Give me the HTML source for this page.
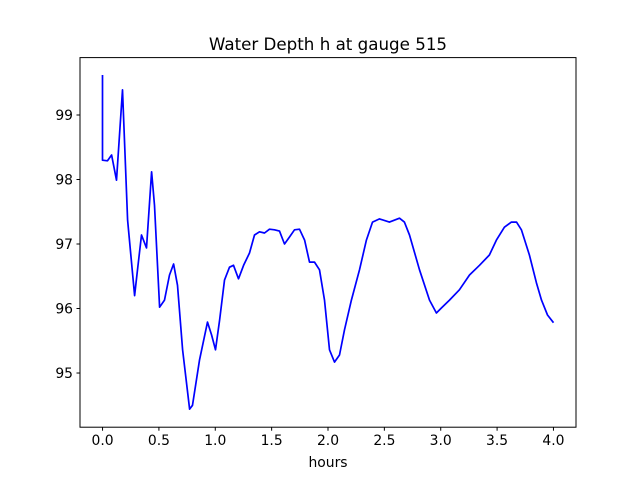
<!DOCTYPE html>
<html><head><meta charset="utf-8"><style>
body{margin:0;background:#fff;}
svg text{font-family:"DejaVu Sans","Liberation Sans",sans-serif;fill:#000;}
</style></head><body>
<svg id="chart" width="640" height="480" xmlns="http://www.w3.org/2000/svg">
<rect width="640" height="480" fill="#fff"/>
<text x="328" y="50" font-size="16.7" text-anchor="middle">Water Depth h at gauge 515</text>
<g id="xticks"></g>
<g id="yticks"></g>
<path id="line" fill="none" stroke="#0000ff" stroke-width="1.7" stroke-linejoin="round"/>
<rect x="80" y="57.6" width="496" height="369.6" fill="none" stroke="#000" stroke-width="1"/>
<text x="328" y="467" font-size="13.9" text-anchor="middle">hours</text>
</svg>
<script>
const hours=[0,0,0.044,0.08,0.124,0.177,0.222,0.284,0.31,0.346,0.39,0.435,0.461,0.506,0.55,0.594,0.63,0.665,0.71,0.772,0.798,0.86,0.931,0.967,1.002,1.038,1.082,1.126,1.162,1.206,1.251,1.304,1.348,1.392,1.437,1.481,1.525,1.57,1.614,1.659,1.703,1.747,1.792,1.836,1.88,1.925,1.969,2.013,2.058,2.102,2.146,2.208,2.279,2.341,2.395,2.457,2.545,2.634,2.678,2.723,2.812,2.9,2.962,3.007,3.078,3.166,3.255,3.344,3.432,3.494,3.565,3.627,3.672,3.716,3.787,3.849,3.894,3.947,4.0];
const depth=[99.62,98.30,98.29,98.38,97.99,99.39,97.37,96.2,96.6,97.14,96.94,98.12,97.60,96.02,96.13,96.52,96.69,96.36,95.36,94.44,94.50,95.20,95.79,95.59,95.36,95.82,96.44,96.64,96.67,96.46,96.67,96.86,97.14,97.19,97.17,97.23,97.22,97.20,97.0,97.11,97.22,97.23,97.06,96.72,96.72,96.6,96.13,95.36,95.17,95.28,95.67,96.13,96.6,97.06,97.34,97.39,97.34,97.40,97.34,97.14,96.6,96.13,95.93,96.01,96.13,96.29,96.52,96.67,96.83,97.06,97.26,97.34,97.34,97.22,96.83,96.40,96.13,95.9,95.78];
const xTicks=[0,0.5,1,1.5,2,2.5,3,3.5,4];
const xTickLabels=["0.0","0.5","1.0","1.5","2.0","2.5","3.0","3.5","4.0"];
const yTicks=[95,96,97,98,99];
const yTickLabels=["95","96","97","98","99"];
const X0=80,X1=576,Y0=57.6,Y1=427.2,xmin=-0.2,xmax=4.2,ymin=94.16,ymax=99.89;
const sx=v=>X0+(v-xmin)/(xmax-xmin)*(X1-X0);
const sy=v=>Y1-(v-ymin)/(ymax-ymin)*(Y1-Y0);
const NS="http://www.w3.org/2000/svg";
const xg=document.getElementById('xticks'),yg=document.getElementById('yticks');
xTicks.forEach((t,i)=>{
 const l=document.createElementNS(NS,'line');
 l.setAttribute('x1',sx(t));l.setAttribute('x2',sx(t));l.setAttribute('y1',Y1);l.setAttribute('y2',Y1+3.5);l.setAttribute('stroke','#000');
 
 
 xg.appendChild(l);
 const tx=document.createElementNS(NS,'text');
 tx.setAttribute('x',sx(t));tx.setAttribute('y',Y1+18);tx.setAttribute('font-size','13.9');tx.setAttribute('text-anchor','middle');
 tx.textContent=xTickLabels[i];
 
 
 xg.appendChild(tx);
});
yTicks.forEach((t,i)=>{
 const l=document.createElementNS(NS,'line');
 l.setAttribute('x1',X0-3.5);l.setAttribute('x2',X0);l.setAttribute('y1',sy(t));l.setAttribute('y2',sy(t));l.setAttribute('stroke','#000');
 
 
 yg.appendChild(l);
 const tx=document.createElementNS(NS,'text');
 tx.setAttribute('x',X0-7);tx.setAttribute('y',sy(t)+5);tx.setAttribute('font-size','13.9');tx.setAttribute('text-anchor','end');
 tx.textContent=yTickLabels[i];
 
 
 yg.appendChild(tx);
});
document.getElementById('line').setAttribute('d',hours.map((h,i)=>(i?'L':'M')+sx(h).toFixed(1)+','+sy(depth[i]).toFixed(1)).join(''));
</script>
</body></html>
